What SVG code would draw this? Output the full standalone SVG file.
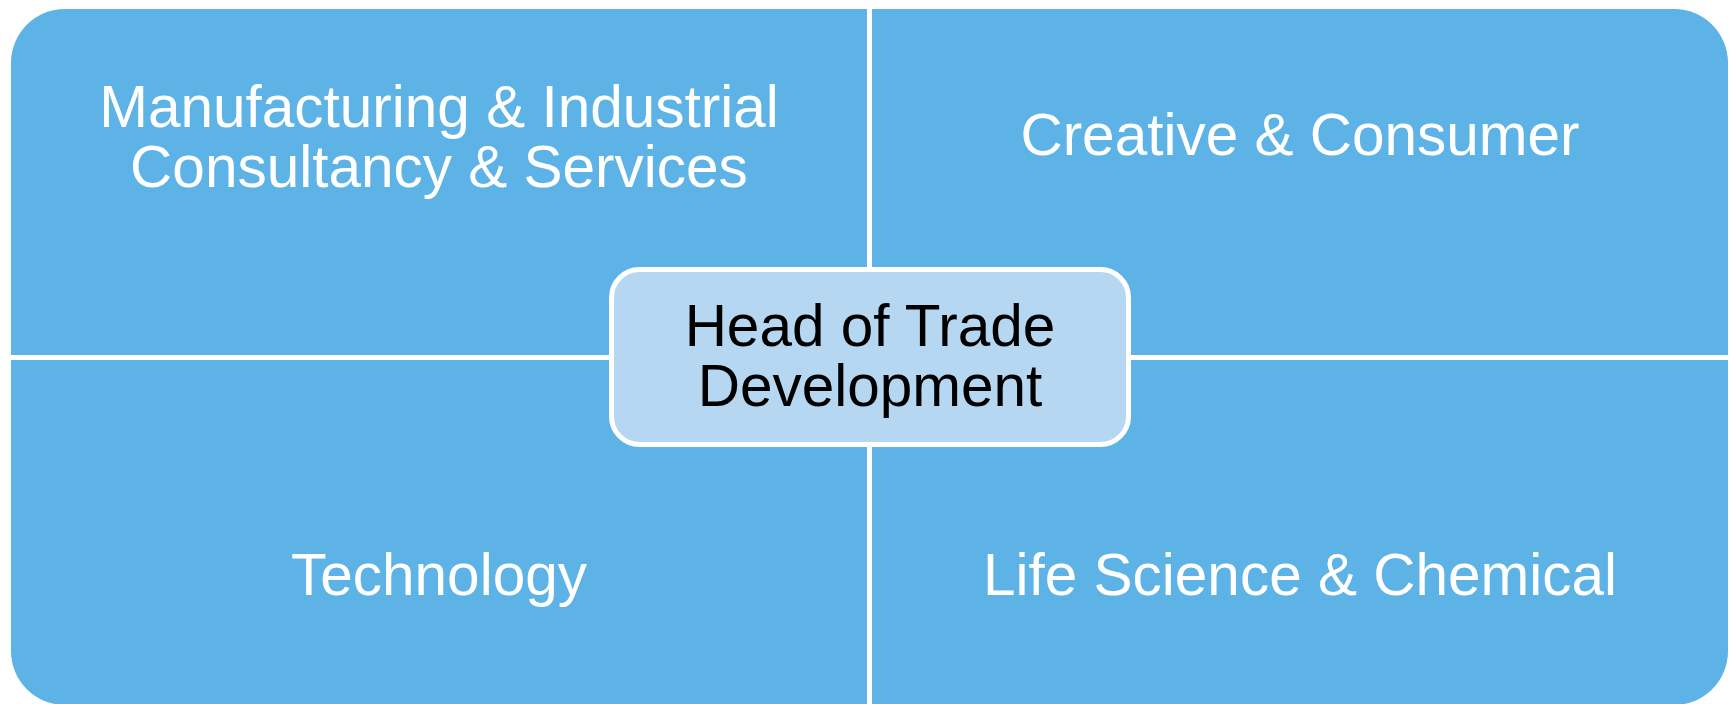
<svg xmlns="http://www.w3.org/2000/svg" width="1735" height="704" viewBox="0 0 1735 704">
  <style>
    .quad { fill: #5DB3E6; }
    .lbl { font-family: "Liberation Sans", Arial, sans-serif; font-size: 58.5px; fill: #FFFFFF; text-anchor: middle; }
    .center { fill: #B5D7F1; stroke: #FFFFFF; stroke-width: 5; }
    .clbl { font-family: "Liberation Sans", Arial, sans-serif; font-size: 58.5px; fill: #000000; text-anchor: middle; }
  </style>
  <rect width="1735" height="704" fill="#FFFFFF"/>
  <g id="connectors"></g>
  <g id="node-manufacturing">
    <path class="quad" d="M11,355 V63 A54,54 0 0 1 65,9 H867 V355 Z"/>
    <text class="lbl" x="439" y="127">Manufacturing &amp; Industrial</text>
    <text class="lbl" x="439" y="187">Consultancy &amp; Services</text>
  </g>
  <g id="node-creative">
    <path class="quad" d="M872,9 H1674 A54,54 0 0 1 1728,63 V355 H872 Z"/>
    <text class="lbl" x="1300" y="155">Creative &amp; Consumer</text>
  </g>
  <g id="node-technology">
    <path class="quad" d="M11,360 H867 V705 H65 A54,54 0 0 1 11,651 Z"/>
    <text class="lbl" x="439" y="595">Technology</text>
  </g>
  <g id="node-lifescience">
    <path class="quad" d="M872,360 H1728 V651 A54,54 0 0 1 1674,705 H872 Z"/>
    <text class="lbl" x="1300" y="595">Life Science &amp; Chemical</text>
  </g>
  <g id="node-head">
    <rect class="center" x="611.5" y="269.5" width="517" height="175" rx="28" ry="28"/>
    <text class="clbl" x="870" y="346">Head of Trade</text>
    <text class="clbl" x="870" y="406">Development</text>
  </g>
</svg>
